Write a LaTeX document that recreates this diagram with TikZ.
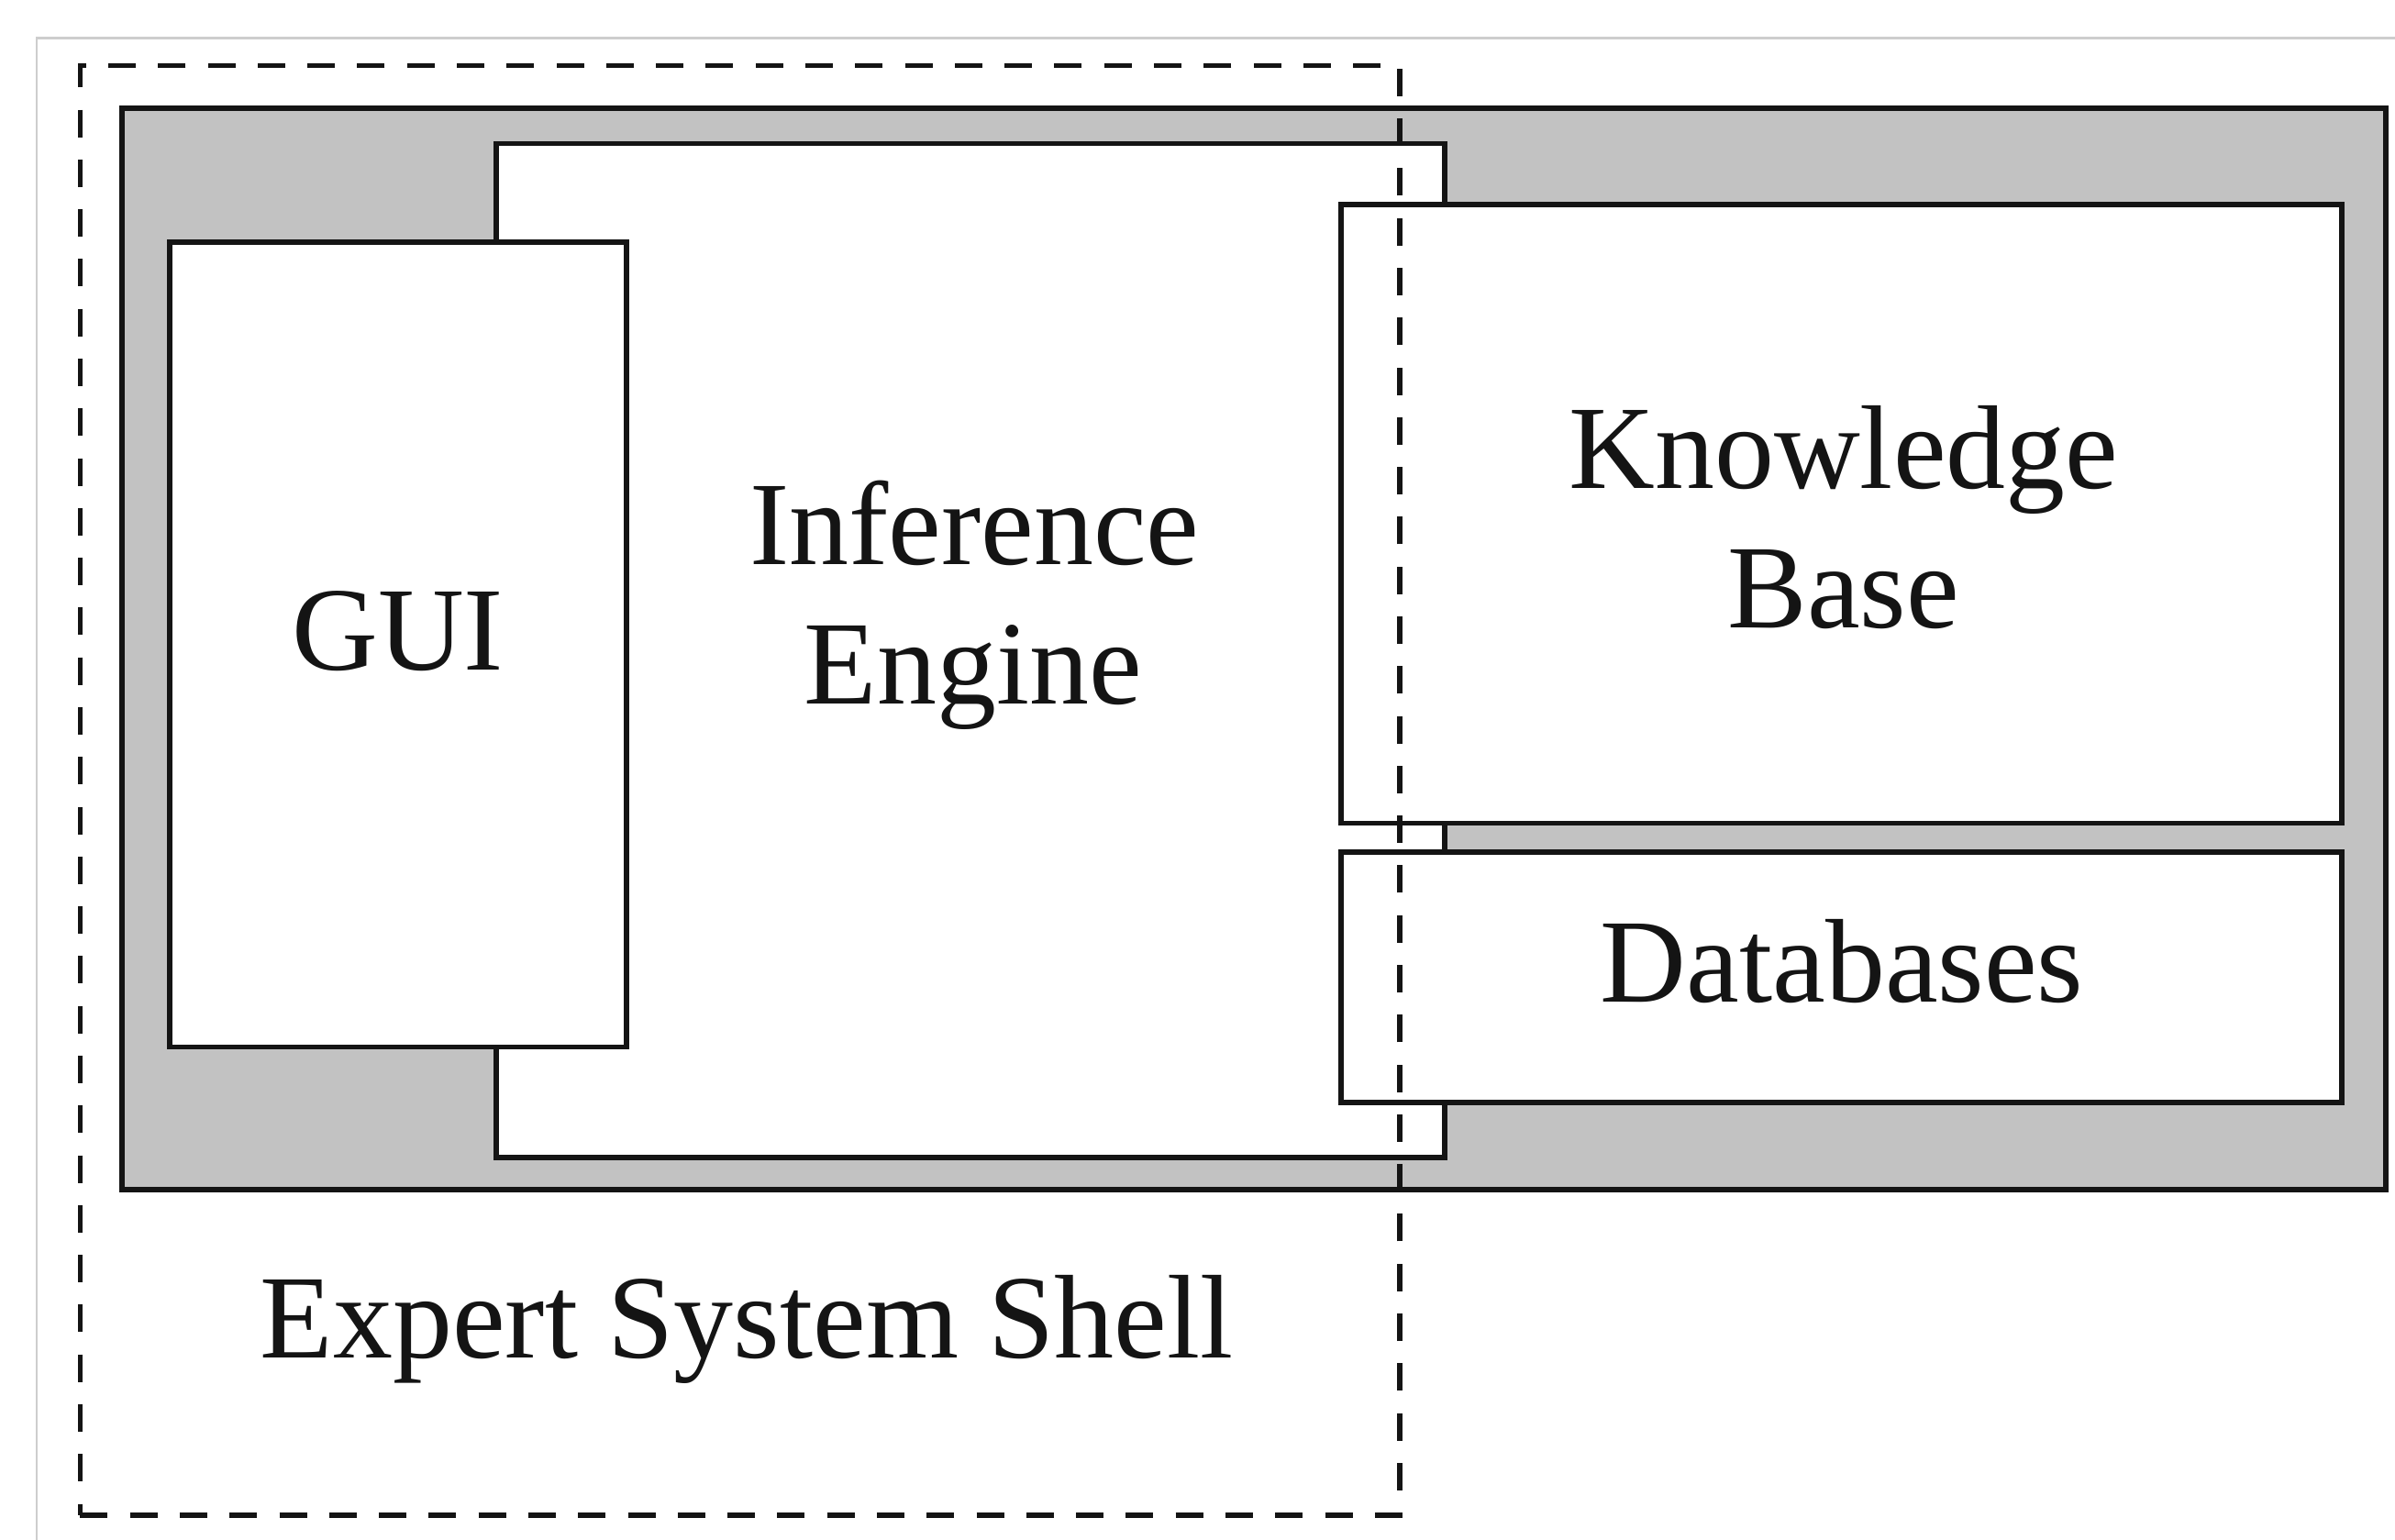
\documentclass[tikz,border=0pt]{standalone}
\usepackage{fontspec}
\setmainfont{Liberation Serif}
\definecolor{shellgray}{RGB}{194,194,194}
\definecolor{framegray}{RGB}{205,205,205}
\definecolor{ink}{RGB}{20,20,20}
\tikzset{
  unitbox/.style={draw=ink, line width=3.4pt, rectangle, inner sep=0pt, outer sep=0pt, fill=white},
  layerbox/.style={unitbox, fill=shellgray},
  shellframe/.style={draw=ink, line width=3.4pt, dash pattern=on 18pt off 14.6pt, rectangle, inner sep=0pt, outer sep=0pt},
  lbl/.style={font=\fontsize{78}{90}\selectfont, text=ink, inner sep=0pt, anchor=base}
}
\begin{document}
\begin{tikzpicture}[x=1pt, y=-1pt]
\useasboundingbox (0,0) rectangle (1568,1008);
\fill[white] (0,0) rectangle (1568,1008);
% thin page frame
\draw[framegray, line width=1.4pt] (24,1008) -- (24,25) -- (1568,25);
% shaded application layer
\node[layerbox, minimum width=1482pt, minimum height=708pt] (layer) at (821,425) {};
% inference engine
\node[unitbox, minimum width=621pt, minimum height=664pt] (engine) at (635.5,426) {};
% user interface
\node[unitbox, minimum width=299pt, minimum height=527pt] (gui) at (260.5,422) {};
% knowledge base and databases
\node[unitbox, minimum width=655pt, minimum height=405pt] (kb) at (1205.5,336.5) {};
\node[unitbox, minimum width=655pt, minimum height=164pt] (db) at (1205.5,640) {};
% shell boundary
\node[shellframe, minimum width=864pt, minimum height=949pt] (shell) at (484.5,517.5) {};
% labels
\node[lbl] (guitext) at (260.5,438.5) {GUI};
\node[lbl] (engtext1) at (638,369.5) {Inference};
\node[lbl] (engtext2) at (637,461) {Engine};
\node[lbl] (kbtext1) at (1207,320) {Knowledge};
\node[lbl] (kbtext2) at (1207,411) {Base};
\node[lbl] (dbtext) at (1206,656) {Databases};
\node[lbl] (shelltext) at (489,889) {Expert System Shell};
\end{tikzpicture}
\end{document}
